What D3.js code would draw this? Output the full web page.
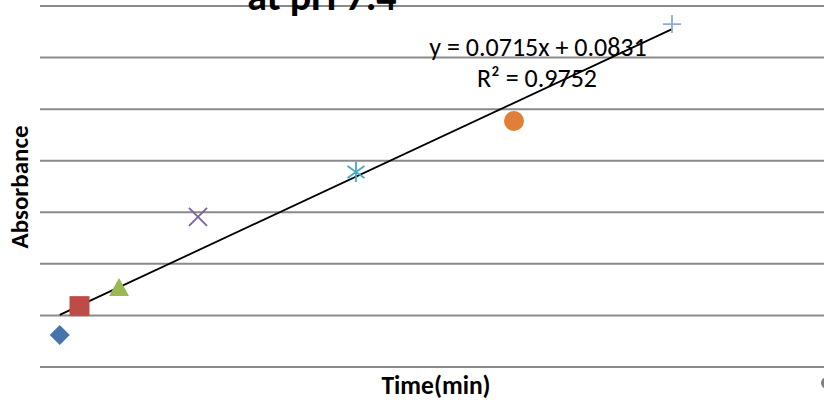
<!DOCTYPE html>
<html>
<head>
<meta charset="utf-8">
<script src="https://cdn.jsdelivr.net/npm/d3@7"></script>
<style>
  html, body { margin: 0; padding: 0; background: #fff; }
  svg { display: block; font-family: Carlito, Lato, "Open Sans", sans-serif; }
</style>
</head>
<body>
<div id="chart"></div>
<script>
const width = 824;
const height = 404;

// one series per point, as in the source sheet
const times = [0.25, 0.5, 1, 2, 4, 6, 8];
const absorbance = [0.062, 0.118, 0.153, 0.291, 0.378, 0.477, 0.665];
const markers = ["diamond", "square", "triangle", "x", "star", "circle", "plus"];
const colors = ["#4674AC", "#BE4B48", "#98B954", "#7D60A0", "#46AAC5", "#E08038", "#8EAADB"];
const yTicks = [0, 0.1, 0.2, 0.3, 0.4, 0.5, 0.6, 0.7];

const slope = 0.0715;
const intercept = 0.0831;
const rSquared = 0.9752;

const svg = d3.select("#chart")
  .append("svg")
  .attr("width", width)
  .attr("height", height);

const x = d3.scaleLinear().domain([0, 10]).range([40, 830]);
const y = d3.scaleLinear().domain([0, 0.7]).range([367, 6]);

// gridlines
svg.append("g")
  .selectAll("line")
  .data(yTicks)
  .join("line")
  .attr("x1", x(0))
  .attr("x2", width + 10)
  .attr("y1", d => y(d))
  .attr("y2", d => y(d))
  .attr("stroke", "#8a8a8a")
  .attr("stroke-width", 2);

// title, mostly cut off at the top
svg.append("text")
  .attr("x", 322)
  .attr("y", 10)
  .attr("text-anchor", "middle")
  .attr("font-size", 40)
  .attr("font-weight", "bold")
  .text("at pH 7.4");

// trendline
const tMin = d3.min(times);
const tMax = d3.max(times);
svg.append("line")
  .attr("x1", x(tMin))
  .attr("y1", y(slope * tMin + intercept))
  .attr("x2", x(tMax))
  .attr("y2", y(slope * tMax + intercept))
  .attr("stroke", "#000")
  .attr("stroke-width", 1.8);

function markerPath(type, r) {
  switch (type) {
    case "diamond": return `M0,${-r}L${r},0L0,${r}L${-r},0Z`;
    case "square": return `M${-r},${-r}H${r}V${r}H${-r}Z`;
    case "triangle": return `M0,${-r}L${r},${r * 0.8}H${-r}Z`;
    case "x": return `M${-r},${-r}L${r},${r}M${-r},${r}L${r},${-r}`;
    case "star": return `M0,${-r}V${r}M${-r * 0.85},${-r * 0.6}L${r * 0.85},${r * 0.6}M${-r * 0.85},${r * 0.6}L${r * 0.85},${-r * 0.6}`;
    case "plus": return `M${-r},0H${r}M0,${-r}V${r}`;
    default: return d3.symbol(d3.symbolCircle, Math.PI * r * r)();
  }
}

const lineMarkers = ["x", "star", "plus"];
const sizes = { diamond: 10, square: 10, triangle: 10, x: 9, star: 10, circle: 10, plus: 9 };

svg.append("g")
  .selectAll("path")
  .data(times.map((t, i) => ({ t, a: absorbance[i], m: markers[i], c: colors[i] })))
  .join("path")
  .attr("transform", d => `translate(${x(d.t)},${y(d.a)})`)
  .attr("d", d => markerPath(d.m, sizes[d.m]))
  .attr("fill", d => lineMarkers.includes(d.m) ? "none" : d.c)
  .attr("stroke", d => lineMarkers.includes(d.m) ? d.c : "none")
  .attr("stroke-width", 1.8);

// equation label
const eq = svg.append("text")
  .attr("text-anchor", "middle")
  .attr("font-size", 26)
  .attr("fill", "#000");
eq.append("tspan")
  .attr("x", 538).attr("y", 56)
  .text(`y = ${slope}x + ${intercept}`);
eq.append("tspan")
  .attr("x", 537).attr("y", 87)
  .text(`R² = ${rSquared}`);

// axis titles
svg.append("text")
  .attr("transform", "translate(28,187) rotate(-90)")
  .attr("text-anchor", "middle")
  .attr("font-size", 25)
  .attr("font-weight", "bold")
  .text("Absorbance");

svg.append("text")
  .attr("x", 436)
  .attr("y", 394)
  .attr("text-anchor", "middle")
  .attr("font-size", 25.5)
  .attr("font-weight", "bold")
  .text("Time(min)");

// legend marker peeking in at the right edge
svg.append("circle")
  .attr("cx", 827)
  .attr("cy", 383)
  .attr("r", 6)
  .attr("fill", "#7f7f7f");
</script>
</body>
</html>
